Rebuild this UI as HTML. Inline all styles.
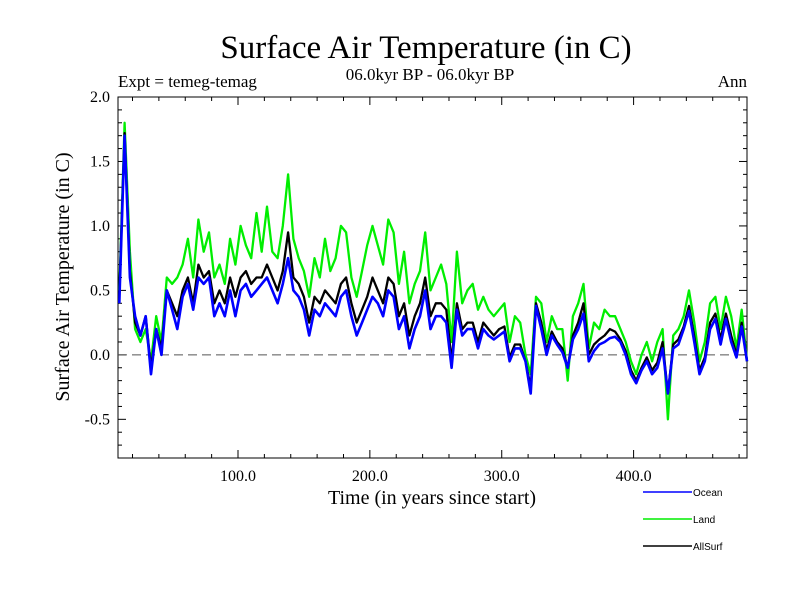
<!DOCTYPE html>
<html><head><meta charset="utf-8"><style>
body{margin:0;background:#fff;}
svg text{font-family:"Liberation Serif",serif;fill:#000;}
</style></head><body>
<svg id="chart" width="800" height="600" xmlns="http://www.w3.org/2000/svg">
<rect width="800" height="600" fill="#fff"/>
<text x="426" y="58" font-size="33" text-anchor="middle">Surface Air Temperature (in C)</text>
<text x="430" y="80" font-size="17" text-anchor="middle">06.0kyr BP - 06.0kyr BP</text>
<text x="118" y="87" font-size="17">Expt = temeg-temag</text>
<text x="747" y="87" font-size="17" text-anchor="end">Ann</text>
<text transform="translate(69,277) rotate(-90)" font-size="20" text-anchor="middle">Surface Air Temperature (in C)</text>
<text x="432" y="504" font-size="20" text-anchor="middle">Time (in years since start)</text>
<g id="axes"></g>
<g id="series"></g>
<g id="legend" font-family="Liberation Sans, sans-serif"></g>
</svg>
<script>
const xTicks=[100,200,300,400];
const xTickLabels=["100.0","200.0","300.0","400.0"];
const yTicks=[-0.5,0,0.5,1,1.5,2];
const yTickLabels=["-0.5","0.0","0.5","1.0","1.5","2.0"];
const yearStart=10, yearStep=4;
const ocean=[0.4,1.7,0.6,0.3,0.15,0.3,-0.15,0.2,0.0,0.5,
0.35,0.2,0.45,0.55,0.35,0.6,0.55,0.6,0.3,0.4,
0.3,0.5,0.3,0.5,0.55,0.45,0.5,0.55,0.6,0.5,
0.4,0.55,0.75,0.5,0.45,0.35,0.15,0.35,0.3,0.4,
0.35,0.3,0.45,0.5,0.3,0.15,0.25,0.35,0.45,0.4,
0.3,0.5,0.45,0.2,0.3,0.05,0.2,0.3,0.5,0.2,
0.3,0.3,0.25,-0.1,0.35,0.15,0.2,0.2,0.05,0.2,
0.15,0.12,0.15,0.18,-0.05,0.05,0.05,-0.05,-0.3,0.38,
0.2,0.0,0.15,0.08,0.02,-0.1,0.12,0.2,0.32,-0.05,
0.03,0.08,0.1,0.13,0.14,0.1,0.0,-0.15,-0.22,-0.12,
-0.05,-0.15,-0.1,0.05,-0.3,0.05,0.08,0.2,0.34,0.1,
-0.15,-0.05,0.2,0.28,0.08,0.28,0.1,-0.02,0.22,-0.05];
const land=[0.5,1.8,0.8,0.2,0.1,0.2,-0.05,0.3,0.1,0.6,
0.55,0.6,0.7,0.9,0.6,1.05,0.8,0.95,0.6,0.7,
0.55,0.9,0.7,1.0,0.85,0.75,1.1,0.8,1.15,0.8,
0.75,1.0,1.4,0.9,0.75,0.65,0.45,0.75,0.6,0.9,
0.65,0.75,1.0,0.95,0.6,0.45,0.65,0.85,1.0,0.85,
0.7,1.05,0.95,0.55,0.8,0.4,0.55,0.65,0.95,0.5,
0.6,0.7,0.55,0.1,0.8,0.4,0.5,0.55,0.35,0.45,
0.35,0.3,0.35,0.4,0.1,0.3,0.25,0.0,-0.15,0.45,
0.4,0.1,0.3,0.2,0.2,-0.2,0.3,0.4,0.55,0.05,
0.25,0.2,0.35,0.3,0.3,0.2,0.1,-0.05,-0.15,0.0,
0.1,-0.05,0.1,0.2,-0.5,0.15,0.2,0.3,0.5,0.25,
-0.05,0.1,0.4,0.45,0.2,0.45,0.3,0.05,0.35,-0.05];
const allSurf=[0.45,1.72,0.65,0.25,0.15,0.3,-0.1,0.2,0.05,0.5,
0.4,0.3,0.5,0.6,0.4,0.7,0.6,0.65,0.4,0.5,
0.4,0.6,0.45,0.6,0.65,0.55,0.6,0.6,0.7,0.6,
0.5,0.65,0.95,0.6,0.55,0.45,0.25,0.45,0.4,0.5,
0.45,0.4,0.55,0.6,0.4,0.25,0.35,0.45,0.6,0.5,
0.4,0.6,0.55,0.3,0.4,0.15,0.3,0.4,0.6,0.3,
0.4,0.4,0.35,-0.05,0.4,0.2,0.25,0.25,0.1,0.25,
0.2,0.15,0.2,0.22,-0.02,0.08,0.08,-0.05,-0.25,0.4,
0.25,0.03,0.18,0.1,0.05,-0.1,0.15,0.25,0.4,0.0,
0.08,0.12,0.15,0.2,0.18,0.12,0.03,-0.12,-0.2,-0.1,
-0.02,-0.12,-0.06,0.1,-0.3,0.08,0.12,0.22,0.38,0.14,
-0.12,-0.02,0.25,0.32,0.12,0.32,0.15,0.0,0.25,-0.05];
const seriesNames=["Land","AllSurf","Ocean"];

const L=118,R=747,T=97,B=458;
const xMin=9,xMax=486,yMin=-0.8,yMax=2.0;
const X=v=>L+(v-xMin)/(xMax-xMin)*(R-L);
const Y=v=>B-(v-yMin)/(yMax-yMin)*(B-T);
const NS="http://www.w3.org/2000/svg";
function mk(tag,attrs,parent){const e=document.createElementNS(NS,tag);for(const k in attrs)e.setAttribute(k,attrs[k]);parent.appendChild(e);return e;}
const axes=document.getElementById('axes');
const frame=mk('rect',{x:L,y:T,width:R-L,height:B-T,fill:'none',stroke:'#000','stroke-width':1},axes);


for(let v=20;v<xMax;v+=20){
  if(v<xMin)continue;
  const maj=v%100===0, len=maj?8:4;
  const t1=mk('line',{x1:X(v),x2:X(v),y1:B,y2:B-len,stroke:'#000'},axes);
  
  
  const t2=mk('line',{x1:X(v),x2:X(v),y1:T,y2:T+len,stroke:'#000'},axes);
  
  
}
xTicks.forEach((v,i)=>{
  const t=mk('text',{x:X(v),y:B+23,'font-size':16,'text-anchor':'middle'},axes);
  t.textContent=xTickLabels[i];
  
  
});
for(let k=-7;k<=20;k++){
  const v=k/10, maj=k%5===0, len=maj?8:4;
  const t1=mk('line',{x1:L,x2:L+len,y1:Y(v),y2:Y(v),stroke:'#000'},axes);
  
  
  const t2=mk('line',{x1:R,x2:R-len,y1:Y(v),y2:Y(v),stroke:'#000'},axes);
  
  
}
yTicks.forEach((v,i)=>{
  const t=mk('text',{x:L-8,y:Y(v)+5,'font-size':16,'text-anchor':'end'},axes);
  t.textContent=yTickLabels[i];
  
  
});
const zl=mk('line',{x1:L,x2:R,y1:Y(0),y2:Y(0),stroke:'#555','stroke-dasharray':'9,5'},axes);



const sg=document.getElementById('series');
const colors=["#00ee00","#000000","#0000ff"];
const datas=[land,allSurf,ocean];
datas.forEach((d,si)=>{
  const pts=d.map((v,i)=>X(yearStart+yearStep*i).toFixed(1)+','+Y(v).toFixed(1)).join(' ');
  const p=mk('polyline',{points:pts,fill:'none',stroke:colors[si],'stroke-width':si===2?2.6:2.3,'stroke-linejoin':'round'},sg);
  
  
});
const lg=document.getElementById('legend');
const legOrder=[2,0,1], legY=[492,519,546];
legOrder.forEach((si,k)=>{
  const ln=mk('line',{x1:643,x2:692,y1:legY[k],y2:legY[k],stroke:colors[si],'stroke-width':1.5},lg);
  
  
  const t=mk('text',{x:693,y:legY[k]+4,'font-size':10,style:'font-family:"Liberation Sans",sans-serif'},lg);
  t.textContent=seriesNames[si];
  
  
});
</script>
</body></html>
